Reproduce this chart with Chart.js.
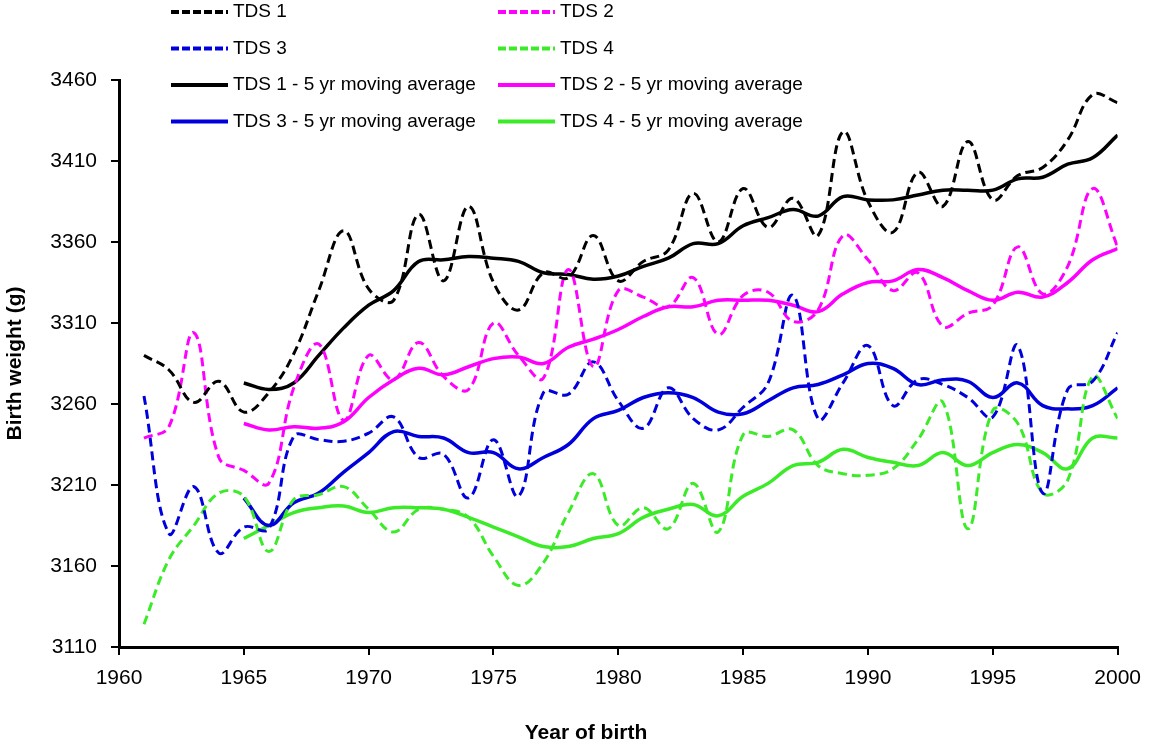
<!DOCTYPE html>
<html>
<head>
<meta charset="utf-8">
<script src="https://cdn.jsdelivr.net/npm/chart.js@4.4.1/dist/chart.umd.min.js"></script>
<style>
  body { margin: 0; background: #fff; }
  #wrap { width: 1152px; height: 745px; }
</style>
</head>
<body>
<div id="wrap"><canvas id="bwChart" width="1152" height="745"></canvas></div>
<script>
// years of birth
const years = [1961, 1962, 1963, 1964, 1965, 1966, 1967, 1968, 1969, 1970,
               1971, 1972, 1973, 1974, 1975, 1976, 1977, 1978, 1979, 1980,
               1981, 1982, 1983, 1984, 1985, 1986, 1987, 1988, 1989, 1990,
               1991, 1992, 1993, 1994, 1995, 1996, 1997, 1998, 1999, 2000];
// moving averages start in 1965
const maYears = [1965, 1966, 1967, 1968, 1969, 1970, 1971, 1972, 1973, 1974,
                 1975, 1976, 1977, 1978, 1979, 1980, 1981, 1982, 1983, 1984,
                 1985, 1986, 1987, 1988, 1989, 1990, 1991, 1992, 1993, 1994,
                 1995, 1996, 1997, 1998, 1999, 2000];

const tds1 = [3290, 3281, 3261, 3274, 3255, 3267, 3291, 3330, 3367, 3331,
              3324, 3377, 3336, 3382, 3335, 3318, 3341, 3338, 3364, 3336,
              3348, 3355, 3390, 3360, 3393, 3369, 3387, 3364, 3428, 3385,
              3366, 3403, 3382, 3422, 3386, 3401, 3406, 3423, 3451, 3446];
const tds2 = [3239, 3246, 3304, 3227, 3219, 3211, 3270, 3297, 3250, 3290,
              3275, 3298, 3277, 3269, 3310, 3290, 3276, 3343, 3283, 3330,
              3326, 3320, 3338, 3303, 3327, 3329, 3311, 3318, 3364, 3349,
              3330, 3341, 3308, 3316, 3321, 3357, 3328, 3345, 3393, 3357];
const tds3 = [3265, 3180, 3209, 3168, 3184, 3183, 3240, 3238, 3237, 3242,
              3252, 3227, 3229, 3202, 3238, 3203, 3267, 3266, 3286, 3262,
              3245, 3270, 3251, 3244, 3258, 3273, 3327, 3251, 3273, 3296,
              3259, 3275, 3272, 3264, 3252, 3296, 3205, 3269, 3274, 3304];
const tds4 = [3124, 3164, 3185, 3205, 3203, 3169, 3201, 3204, 3209, 3195,
              3181, 3195, 3195, 3190, 3166, 3148, 3162, 3193, 3217, 3185,
              3196, 3183, 3211, 3181, 3241, 3240, 3244, 3222, 3217, 3216,
              3220, 3238, 3261, 3183, 3256, 3248, 3205, 3213, 3277, 3251];

const tds1MA = [3273, 3269, 3273, 3290, 3307, 3321, 3330, 3348, 3349, 3351,
                3350, 3348, 3341, 3340, 3337, 3339, 3345, 3350, 3359, 3359,
                3370, 3375, 3380, 3376, 3388, 3386, 3386, 3389, 3392, 3392,
                3392, 3399, 3400, 3408, 3412, 3426];
const tds2MA = [3248, 3244, 3246, 3245, 3249, 3264, 3275, 3282, 3278, 3283,
                3288, 3289, 3285, 3295, 3300, 3306, 3314, 3320, 3320, 3324,
                3324, 3324, 3321, 3317, 3328, 3335, 3336, 3343, 3338, 3330,
                3324, 3329, 3326, 3335, 3349, 3356];
const tds3MA = [3202, 3185, 3199, 3205, 3218, 3230, 3243, 3240, 3239, 3230,
                3230, 3220, 3227, 3235, 3251, 3256, 3264, 3267, 3264, 3255,
                3254, 3262, 3270, 3272, 3278, 3285, 3282, 3272, 3275, 3274,
                3264, 3273, 3259, 3257, 3259, 3270];
const tds4MA = [3177, 3185, 3193, 3196, 3197, 3193, 3196, 3196, 3195, 3190,
                3184, 3178, 3172, 3172, 3177, 3180, 3190, 3195, 3198, 3191,
                3203, 3211, 3222, 3224, 3232, 3227, 3224, 3222, 3230, 3222,
                3230, 3235, 3230, 3220, 3239, 3239];

const BLACK = '#000000', MAGENTA = '#FF00FF', BLUE = '#0000DD', GREEN = '#3CEB28';
const FONT = '"Liberation Sans", Arial, sans-serif';

function pts(xs, ys) {
    return xs.map((x, i) => ({ x: x, y: ys[i] }));
}

function dashed(label, xs, ys, color) {
    return { label, data: pts(xs, ys), borderColor: color, borderWidth: 3,
             borderDash: [9, 5], pointRadius: 0, tension: 0.4, fill: false };
}
function solid(label, xs, ys, color) {
    return { label, data: pts(xs, ys), borderColor: color, borderWidth: 3.5,
             pointRadius: 0, tension: 0.4, fill: false };
}

// legend in two columns over the top of the plot, plus the x title,
// which sits left of centre in the original
const extras = {
    id: 'extras',
    afterDraw(chart) {
        const ctx = chart.ctx;
        ctx.save();
        ctx.font = '19px ' + FONT;
        ctx.textBaseline = 'middle';
        chart.data.datasets.forEach((ds, i) => {
            const x = [171, 498][i % 2];
            const y = 12 + Math.floor(i / 2) * 36.5;
            ctx.strokeStyle = ds.borderColor;
            ctx.lineWidth = 4;
            ctx.setLineDash(ds.borderDash ? [8, 3] : []);
            ctx.beginPath();
            ctx.moveTo(x, y);
            ctx.lineTo(x + 57, y);
            ctx.stroke();
            ctx.setLineDash([]);
            ctx.fillStyle = '#000';
            ctx.fillText(ds.label, x + 62, y);
        });
        ctx.font = 'bold 21px ' + FONT;
        ctx.textAlign = 'center';
        ctx.fillText('Year of birth', 586, 733);
        ctx.restore();
    }
};

const ctx = document.getElementById('bwChart').getContext('2d');
const bwChart = new Chart(ctx, {
    type: 'line',
    data: {
        datasets: [
            dashed('TDS 1', years, tds1, BLACK),
            dashed('TDS 2', years, tds2, MAGENTA),
            dashed('TDS 3', years, tds3, BLUE),
            dashed('TDS 4', years, tds4, GREEN),
            solid('TDS 1 - 5 yr moving average', maYears, tds1MA, BLACK),
            solid('TDS 2 - 5 yr moving average', maYears, tds2MA, MAGENTA),
            solid('TDS 3 - 5 yr moving average', maYears, tds3MA, BLUE),
            solid('TDS 4 - 5 yr moving average', maYears, tds4MA, GREEN)
        ]
    },
    options: {
        responsive: false,
        animation: false,
        layout: { padding: { top: 80, right: 29, left: 0, bottom: 0 } },
        plugins: { legend: { display: false }, tooltip: { enabled: false } },
        scales: {
            x: {
                type: 'linear',
                min: 1960,
                max: 2000,
                afterFit: s => { s.height = 98; },
                ticks: { stepSize: 5, color: '#000', font: { family: FONT, size: 21 },
                         padding: 11, callback: v => String(v) },
                grid: { drawOnChartArea: false, tickLength: 8, color: '#000', lineWidth: 2 },
                border: { color: '#000', width: 3 }
            },
            y: {
                min: 3110,
                max: 3460,
                afterFit: s => { s.width = 119; },
                ticks: { stepSize: 50, color: '#000', font: { family: FONT, size: 21 },
                         padding: 14, callback: v => String(v) },
                grid: { drawOnChartArea: false, tickLength: 8, color: '#000', lineWidth: 2 },
                border: { color: '#000', width: 3 },
                title: { display: true, text: 'Birth weight (g)', color: '#000',
                         font: { family: FONT, size: 21, weight: 'bold' },
                         padding: { top: 3, bottom: 0 } }
            }
        }
    },
    plugins: [extras]
});
</script>
</body>
</html>
